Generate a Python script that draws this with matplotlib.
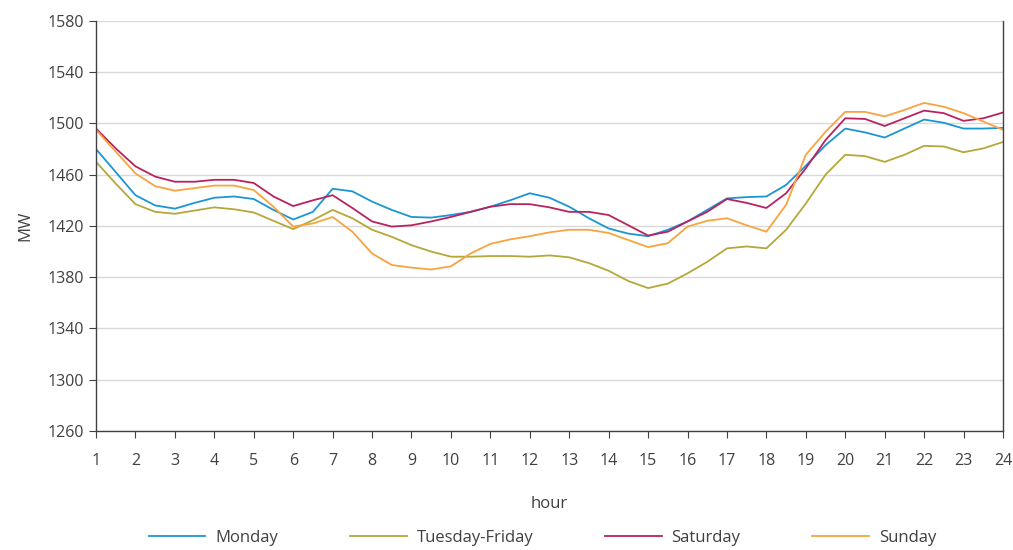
import matplotlib
matplotlib.use("Agg")
import matplotlib.pyplot as plt
import numpy as np

plt.rcParams['font.family'] = ['Open Sans', 'DejaVu Sans']

# Почасовые значения с шагом полчаса
hours = np.arange(1, 24.01, 0.5)

monday = [1480, 1462, 1444, 1436, 1433.5, 1438, 1442, 1443, 1441, 1432.5, 1425, 1431,
          1449, 1447, 1439, 1432.5, 1427, 1426.5, 1428.5, 1431, 1435, 1440, 1445.5, 1442,
          1435, 1426, 1418, 1414, 1412, 1417, 1423.5, 1432.5, 1441.5, 1442.5, 1443, 1452,
          1467, 1483, 1496, 1493, 1489, 1496, 1503, 1500.5, 1496, 1496, 1496.5]
tue_fri = [1470, 1453, 1437, 1431, 1429.5, 1432, 1434.5, 1433, 1430.5, 1424, 1417.5, 1424.5,
           1432.5, 1426, 1417, 1411.5, 1405, 1400, 1396, 1396, 1396.5, 1396.5, 1396, 1397,
           1395.5, 1391, 1385, 1377, 1371.5, 1375, 1383, 1392, 1402.5, 1404, 1402.5, 1417,
           1437.5, 1460, 1475.5, 1474.5, 1470, 1475.5, 1482.5, 1482, 1477.5, 1480.5, 1485.5]
saturday = [1496, 1480.5, 1466.5, 1458.5, 1454.5, 1454.5, 1456, 1456, 1453.5, 1443, 1435.5, 1440,
            1444, 1434, 1423.5, 1419.5, 1420.5, 1423.5, 1427, 1431, 1435, 1437, 1437, 1434.5,
            1431, 1431, 1428.5, 1420.5, 1412.5, 1415.5, 1423.5, 1431, 1441, 1438, 1434, 1445.5,
            1465, 1487, 1504, 1503.5, 1498, 1504, 1510, 1508, 1502, 1504, 1508.5]
sunday = [1495, 1478, 1461, 1451, 1447.5, 1449.5, 1451.5, 1451.5, 1448, 1435, 1419.5, 1422,
          1427, 1415.5, 1398.5, 1389.5, 1387.5, 1386, 1388.5, 1398.5, 1406, 1409.5, 1412, 1415,
          1417, 1417, 1414.5, 1409, 1403.5, 1406.5, 1419.5, 1424, 1426, 1420.5, 1415.5, 1436.5,
          1475.5, 1493.5, 1509, 1509, 1505.5, 1510.5, 1516, 1513, 1508, 1501.5, 1495]

names = ["Monday", "Tuesday-Friday", "Saturday", "Sunday"]
colors = ["#1b95d4", "#b4a83a", "#b8235f", "#f7a440"]

fig = plt.figure(figsize=(10.13, 5.5), dpi=100)
ax = fig.add_axes([0.0948, 0.2164, 0.8953, 0.7456])

for series, name, col in zip([monday, tue_fri, saturday, sunday], names, colors):
    ax.plot(hours, series, color=col, lw=1.3, label=name)

ax.set_xlim(1, 24)
ax.set_ylim(1260, 1580)
ax.set_xticks(range(1, 25))
ax.set_yticks(range(1260, 1581, 40))
ax.grid(axis='y', color='#d9d9d9', lw=1)
ax.set_axisbelow(True)

txt = '#404040'
for s in ['left', 'bottom', 'right']:
    ax.spines[s].set_color('#404040')
    ax.spines[s].set_linewidth(1)
ax.spines['top'].set_visible(False)
ax.tick_params(axis='both', colors='#404040', labelcolor=txt, labelsize=11.5, length=5)
ax.tick_params(axis='x', pad=11)

ax.set_xlabel("hour", fontsize=12, color=txt, labelpad=19)
ax.set_ylabel("MW", fontsize=12, color=txt, labelpad=10)

fig.legend(loc='center', bbox_to_anchor=(0.5355, 0.022), ncol=4, frameon=False,
           fontsize=12, handlelength=3.4, handletextpad=0.6, columnspacing=4.3,
           labelcolor=txt)

fig.savefig("out.png", dpi=100)
